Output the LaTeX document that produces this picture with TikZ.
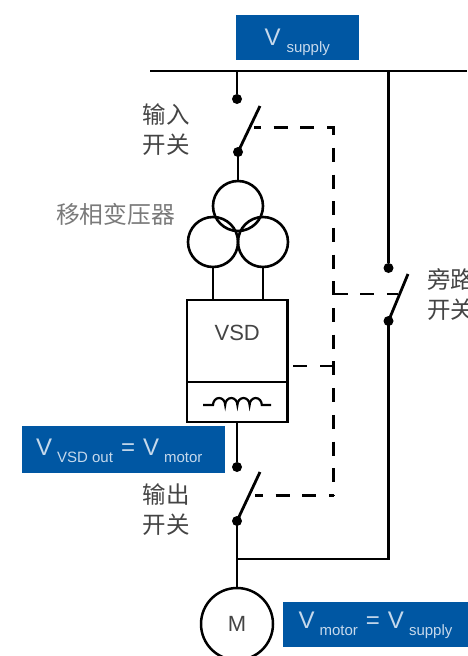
\documentclass[tikz,border=0pt]{standalone}
\usepackage{fontspec}
\setmainfont{Liberation Sans}
\newfontfamily\cjk{Noto Sans CJK SC}
\definecolor{vblue}{HTML}{0057A3}
\definecolor{vtext}{HTML}{C6D9EC}
\definecolor{labdark}{HTML}{444444}
\definecolor{labgray}{HTML}{7A7A7A}
\newcommand{\bigV}{{\fontsize{24}{24}\selectfont V}}
\newcommand{\eqs}{{\fontsize{24}{24}\selectfont =}}
\newcommand{\subt}[1]{\lower 7pt\hbox{\fontsize{15}{15}\selectfont #1}}
\tikzset{
  wire/.style={line width=2.8pt,black},
  ctrl/.style={line width=2.4pt,black,dash pattern=on 14pt off 12.7pt},
  contact/.style={circle,fill=black,inner sep=0pt,outer sep=0pt,minimum size=10pt},
  coil/.style={circle,draw=black,line width=2.6pt,inner sep=0pt,outer sep=0pt,minimum size=50pt},
  unit/.style={rectangle,draw=black,line width=2.6pt,inner sep=0pt,outer sep=0pt,minimum width=100.5pt,anchor=north west},
  tag/.style={rectangle,fill=vblue,text=vtext,inner sep=0pt,outer sep=0pt,anchor=north west},
  lab/.style={font=\cjk\fontsize{23.5}{30}\selectfont,text=labdark,align=left,inner sep=0pt}
}
\begin{document}
\begin{tikzpicture}[x=1pt,y=-1pt]
\useasboundingbox (0,0) rectangle (468,656);
\clip (0,0) rectangle (468,656);
% supply tag and bus
\node[tag,minimum width=123pt,minimum height=45pt,text height=20pt,text depth=5pt] (tsupply) at (235.7,15) {\bigV\hspace{6pt}\subt{supply}};
\coordinate (busL) at (150,71);
\coordinate (busR) at (467,71);
\coordinate (busA) at (237,71);
\coordinate (busB) at (388.5,71);
\draw[wire] (busL) -- (busR);
% input switch
\node[contact] (in1) at (237,99) {};
\node[contact] (in2) at (238,152) {};
\coordinate (inT) at (260,106);
\coordinate (inC) at (254,127.5);
\draw[wire] (busA) -- (in1);
\draw[wire] (in2.center) -- (inT);
\node[lab] (linput) at (166,129.5) {输入\\开关};
% transformer
\node[coil] (c1) at (238,206) {};
\node[coil] (c2) at (213,242) {};
\node[coil] (c3) at (263,242) {};
\node[font=\cjk\fontsize{23.8}{24}\selectfont,text=labgray,inner sep=0pt] (ltrans) at (115.5,214) {移相变压器};
\draw[wire] (in2.center) -- (c1.north);
% VSD
\node[unit,minimum height=82pt,font=\fontsize{22}{22}\selectfont,text=labdark,text height=8pt,text depth=10pt] (vsd) at (187,300) {VSD};
\node[unit,minimum height=40pt] (filt) at (187,382) {};
\draw[wire] (c2.south) -- (c2.south |- vsd.north);
\draw[wire] (c3.south) -- (c3.south |- vsd.north);
% inductor
\coordinate (indL) at (203,405);
\coordinate (indR) at (271,405);
\draw[line width=2.2pt,black] (indL) -- ++(10,0)
  arc[start angle=180,end angle=360,x radius=6.1,y radius=7]
  arc[start angle=180,end angle=360,x radius=6.1,y radius=7]
  arc[start angle=180,end angle=360,x radius=6.1,y radius=7]
  arc[start angle=180,end angle=360,x radius=6.1,y radius=7] -- (indR);
% output tag and switch
\node[tag,minimum width=202.5pt,minimum height=47pt,text height=18pt,text depth=7pt] (tvsd) at (22,426) {\bigV\hspace{5pt}\subt{VSD out}\hspace{8pt}\eqs\hspace{8pt}\bigV\hspace{5pt}\subt{motor}\kern8pt};
\node[contact] (out1) at (237,467) {};
\node[contact] (out2) at (237,521) {};
\coordinate (outT) at (260,472);
\coordinate (outC) at (255,495.5);
\draw[wire] (filt.south -| out1) -- (out1);
\draw[wire] (out2.center) -- (outT);
\node[lab] (loutput) at (166,509.5) {输出\\开关};
% bypass
\node[contact] (by1) at (388.5,268) {};
\node[contact] (by2) at (388.5,321) {};
\coordinate (byT) at (408,274);
\coordinate (byC) at (398,294);
\coordinate (joinB) at (388.5,559);
\coordinate (joinA) at (237,559);
\draw[wire] (busB) -- (by1);
\draw[wire] (by2.center) -- (byT);
\draw[wire] (by2.center) -- (joinB) -- (joinA);
\node[lab,anchor=west] (lbypass) at (427,295) {旁路\\开关};
% motor
\node[circle,draw=black,line width=2.5pt,minimum size=72pt,inner sep=0pt,outer sep=0pt,font=\fontsize{22}{22}\selectfont,text=labdark] (motor) at (237,624) {M};
\draw[wire] (out2.center) -- (motor.north);
\node[tag,minimum width=185pt,minimum height=45pt,text height=16pt,text depth=8pt] (tmotor) at (283,602) {\bigV\hspace{5pt}\subt{motor}\hspace{8pt}\eqs\hspace{8pt}\bigV\hspace{5pt}\subt{supply}};
% control lines
\coordinate (cTop) at (333.5,127.5);
\coordinate (cMid) at (333.5,294);
\coordinate (cVsd) at (333.5,366);
\coordinate (cBot) at (333.5,495.5);
\coordinate (vsdC) at (288,366);
\draw[ctrl,dash phase=7pt] (inC) -- (cTop) -- (cBot);
\draw[ctrl,dash phase=6pt] (outC) -- (cBot);
\draw[ctrl] (cMid) -- (byC);
\draw[ctrl] (cVsd) -- (vsdC);
\end{tikzpicture}
\end{document}
